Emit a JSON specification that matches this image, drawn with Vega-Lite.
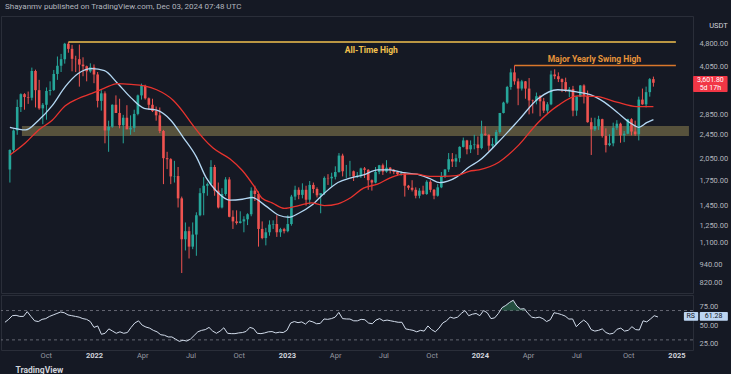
{
  "$schema": "https://vega.github.io/schema/vega-lite/v6.json",
  "background": "#151924",
  "padding": {"left": 0, "top": 2, "right": 2, "bottom": 0},
  "spacing": 0,
  "title": {"text": "Shayanmv published on TradingView.com, Dec 03, 2024 07:48 UTC", "anchor": "start", "dx": 5, "fontSize": 8, "fontWeight": "normal", "font": "Roboto", "color": "#b2b5be", "offset": 5},
  "config": {"view": {"stroke": "#2a2e39", "strokeWidth": 1}, "font": "Roboto"},
  "datasets": {
    "candles": [
      {"d": "2021-07-19", "o": 1895, "h": 2200, "l": 1720, "c": 2190, "r": 54},
      {"d": "2021-07-26", "o": 2190, "h": 2550, "l": 2150, "c": 2530, "r": 58},
      {"d": "2021-08-02", "o": 2530, "h": 3180, "l": 2450, "c": 3010, "r": 63},
      {"d": "2021-08-09", "o": 3010, "h": 3330, "l": 2900, "c": 3310, "r": 63.5},
      {"d": "2021-08-16", "o": 3310, "h": 3335, "l": 2950, "c": 3240, "r": 62},
      {"d": "2021-08-23", "o": 3240, "h": 3375, "l": 3080, "c": 3225, "r": 62},
      {"d": "2021-08-30", "o": 3225, "h": 4030, "l": 3160, "c": 3930, "r": 68.5},
      {"d": "2021-09-06", "o": 3930, "h": 3970, "l": 3000, "c": 3410, "r": 62},
      {"d": "2021-09-13", "o": 3410, "h": 3680, "l": 2950, "c": 2980, "r": 56},
      {"d": "2021-09-20", "o": 2980, "h": 3100, "l": 2650, "c": 3060, "r": 55},
      {"d": "2021-09-27", "o": 3060, "h": 3480, "l": 2740, "c": 3390, "r": 58},
      {"d": "2021-10-04", "o": 3390, "h": 3640, "l": 3280, "c": 3415, "r": 59},
      {"d": "2021-10-11", "o": 3415, "h": 3960, "l": 3390, "c": 3845, "r": 62},
      {"d": "2021-10-18", "o": 3845, "h": 4375, "l": 3680, "c": 4085, "r": 64},
      {"d": "2021-10-25", "o": 4085, "h": 4460, "l": 3900, "c": 4290, "r": 66},
      {"d": "2021-11-01", "o": 4290, "h": 4840, "l": 4150, "c": 4810, "r": 68},
      {"d": "2021-11-08", "o": 4810, "h": 4868, "l": 4500, "c": 4630, "r": 67},
      {"d": "2021-11-15", "o": 4630, "h": 4770, "l": 3920, "c": 4300, "r": 64},
      {"d": "2021-11-22", "o": 4300, "h": 4400, "l": 3900, "c": 4290, "r": 63},
      {"d": "2021-11-29", "o": 4290, "h": 4780, "l": 3500, "c": 4120, "r": 62},
      {"d": "2021-12-06", "o": 4120, "h": 4350, "l": 3780, "c": 4070, "r": 61},
      {"d": "2021-12-13", "o": 4070, "h": 4090, "l": 3640, "c": 3920, "r": 59},
      {"d": "2021-12-20", "o": 3920, "h": 4160, "l": 3880, "c": 4040, "r": 58},
      {"d": "2021-12-27", "o": 4040, "h": 4125, "l": 3590, "c": 3830, "r": 55},
      {"d": "2022-01-03", "o": 3830, "h": 3900, "l": 3000, "c": 3150, "r": 47},
      {"d": "2022-01-10", "o": 3150, "h": 3410, "l": 2930, "c": 3330, "r": 49},
      {"d": "2022-01-17", "o": 3330, "h": 3380, "l": 2300, "c": 2530, "r": 37.6},
      {"d": "2022-01-24", "o": 2530, "h": 2720, "l": 2160, "c": 2600, "r": 39},
      {"d": "2022-01-31", "o": 2600, "h": 3070, "l": 2580, "c": 3060, "r": 45},
      {"d": "2022-02-07", "o": 3060, "h": 3280, "l": 2880, "c": 2880, "r": 42},
      {"d": "2022-02-14", "o": 2880, "h": 3200, "l": 2570, "c": 2630, "r": 39},
      {"d": "2022-02-21", "o": 2630, "h": 2840, "l": 2300, "c": 2780, "r": 41},
      {"d": "2022-02-28", "o": 2780, "h": 3050, "l": 2600, "c": 2550, "r": 39},
      {"d": "2022-03-07", "o": 2550, "h": 2830, "l": 2450, "c": 2580, "r": 40},
      {"d": "2022-03-14", "o": 2580, "h": 2950, "l": 2500, "c": 2860, "r": 47},
      {"d": "2022-03-21", "o": 2860, "h": 3300, "l": 2830, "c": 3280, "r": 53},
      {"d": "2022-03-28", "o": 3280, "h": 3580, "l": 3180, "c": 3520, "r": 56},
      {"d": "2022-04-04", "o": 3520, "h": 3550, "l": 3180, "c": 3210, "r": 50},
      {"d": "2022-04-11", "o": 3210, "h": 3230, "l": 2950, "c": 3060, "r": 47.5},
      {"d": "2022-04-18", "o": 3060, "h": 3200, "l": 2900, "c": 2920, "r": 46},
      {"d": "2022-04-25", "o": 2920, "h": 3020, "l": 2720, "c": 2830, "r": 43},
      {"d": "2022-05-02", "o": 2830, "h": 3000, "l": 2480, "c": 2520, "r": 41},
      {"d": "2022-05-09", "o": 2520, "h": 2540, "l": 1700, "c": 2060, "r": 37},
      {"d": "2022-05-16", "o": 2060, "h": 2160, "l": 1900, "c": 2045, "r": 36.3},
      {"d": "2022-05-23", "o": 2045, "h": 2060, "l": 1700, "c": 1800, "r": 34},
      {"d": "2022-05-30", "o": 1800, "h": 2020, "l": 1720, "c": 1805, "r": 34},
      {"d": "2022-06-06", "o": 1805, "h": 1930, "l": 1430, "c": 1530, "r": 31},
      {"d": "2022-06-13", "o": 1530, "h": 1550, "l": 880, "c": 1130, "r": 28},
      {"d": "2022-06-20", "o": 1130, "h": 1280, "l": 1040, "c": 1200, "r": 29.5},
      {"d": "2022-06-27", "o": 1200, "h": 1240, "l": 980, "c": 1070, "r": 28.4},
      {"d": "2022-07-04", "o": 1070, "h": 1280, "l": 1050, "c": 1170, "r": 31},
      {"d": "2022-07-11", "o": 1170, "h": 1380, "l": 1000, "c": 1350, "r": 36},
      {"d": "2022-07-18", "o": 1350, "h": 1650, "l": 1340, "c": 1590, "r": 41},
      {"d": "2022-07-25", "o": 1590, "h": 1790, "l": 1350, "c": 1680, "r": 43},
      {"d": "2022-08-01", "o": 1680, "h": 1720, "l": 1560, "c": 1700, "r": 44},
      {"d": "2022-08-08", "o": 1700, "h": 2030, "l": 1690, "c": 1930, "r": 47},
      {"d": "2022-08-15", "o": 1930, "h": 1960, "l": 1560, "c": 1620, "r": 42},
      {"d": "2022-08-22", "o": 1620, "h": 1720, "l": 1420, "c": 1430, "r": 39},
      {"d": "2022-08-29", "o": 1430, "h": 1650, "l": 1420, "c": 1580, "r": 42},
      {"d": "2022-09-05", "o": 1580, "h": 1790, "l": 1560, "c": 1760, "r": 46.5},
      {"d": "2022-09-12", "o": 1760, "h": 1790, "l": 1330, "c": 1335, "r": 39},
      {"d": "2022-09-19", "o": 1335, "h": 1400, "l": 1220, "c": 1290, "r": 38.5},
      {"d": "2022-09-26", "o": 1290, "h": 1400, "l": 1260, "c": 1275, "r": 38.5},
      {"d": "2022-10-03", "o": 1275, "h": 1390, "l": 1270, "c": 1290, "r": 39.5},
      {"d": "2022-10-10", "o": 1290, "h": 1340, "l": 1190, "c": 1310, "r": 40},
      {"d": "2022-10-17", "o": 1310, "h": 1370, "l": 1255, "c": 1360, "r": 41.5},
      {"d": "2022-10-24", "o": 1360, "h": 1660, "l": 1340, "c": 1620, "r": 47},
      {"d": "2022-10-31", "o": 1620, "h": 1680, "l": 1500, "c": 1580, "r": 45.5},
      {"d": "2022-11-07", "o": 1580, "h": 1610, "l": 1070, "c": 1220, "r": 39},
      {"d": "2022-11-14", "o": 1220, "h": 1290, "l": 1130, "c": 1140, "r": 38.5},
      {"d": "2022-11-21", "o": 1140, "h": 1230, "l": 1080, "c": 1190, "r": 39.5},
      {"d": "2022-11-28", "o": 1190, "h": 1300, "l": 1160, "c": 1260, "r": 41},
      {"d": "2022-12-05", "o": 1260, "h": 1300, "l": 1220, "c": 1265, "r": 41.3},
      {"d": "2022-12-12", "o": 1265, "h": 1350, "l": 1150, "c": 1190, "r": 39.5},
      {"d": "2022-12-19", "o": 1190, "h": 1230, "l": 1150, "c": 1218, "r": 40.5},
      {"d": "2022-12-26", "o": 1218, "h": 1230, "l": 1180, "c": 1200, "r": 40},
      {"d": "2023-01-02", "o": 1200, "h": 1350, "l": 1190, "c": 1265, "r": 43},
      {"d": "2023-01-09", "o": 1265, "h": 1570, "l": 1250, "c": 1550, "r": 53},
      {"d": "2023-01-16", "o": 1550, "h": 1680, "l": 1510, "c": 1630, "r": 55},
      {"d": "2023-01-23", "o": 1630, "h": 1660, "l": 1520, "c": 1570, "r": 53.5},
      {"d": "2023-01-30", "o": 1570, "h": 1710, "l": 1530, "c": 1630, "r": 54.5},
      {"d": "2023-02-06", "o": 1630, "h": 1680, "l": 1450, "c": 1515, "r": 51.5},
      {"d": "2023-02-13", "o": 1515, "h": 1740, "l": 1460, "c": 1690, "r": 56},
      {"d": "2023-02-20", "o": 1690, "h": 1720, "l": 1590, "c": 1640, "r": 54.5},
      {"d": "2023-02-27", "o": 1640, "h": 1660, "l": 1540, "c": 1565, "r": 52},
      {"d": "2023-03-06", "o": 1565, "h": 1580, "l": 1370, "c": 1590, "r": 52.5},
      {"d": "2023-03-13", "o": 1590, "h": 1800, "l": 1570, "c": 1780, "r": 58.5},
      {"d": "2023-03-20", "o": 1780, "h": 1830, "l": 1690, "c": 1775, "r": 58},
      {"d": "2023-03-27", "o": 1775, "h": 1850, "l": 1670, "c": 1795, "r": 59},
      {"d": "2023-04-03", "o": 1795, "h": 1940, "l": 1760, "c": 1860, "r": 61},
      {"d": "2023-04-10", "o": 1860, "h": 2140, "l": 1850, "c": 2100, "r": 67.5},
      {"d": "2023-04-17", "o": 2100, "h": 2130, "l": 1800, "c": 1870, "r": 59},
      {"d": "2023-04-24", "o": 1870, "h": 1960, "l": 1780, "c": 1870, "r": 58.5},
      {"d": "2023-05-01", "o": 1870, "h": 2020, "l": 1800, "c": 1870, "r": 58.4},
      {"d": "2023-05-08", "o": 1870, "h": 1880, "l": 1740, "c": 1800, "r": 56},
      {"d": "2023-05-15", "o": 1800, "h": 1860, "l": 1780, "c": 1810, "r": 56},
      {"d": "2023-05-22", "o": 1810, "h": 1920, "l": 1780, "c": 1910, "r": 58},
      {"d": "2023-05-29", "o": 1910, "h": 1930, "l": 1780, "c": 1890, "r": 57.5},
      {"d": "2023-06-05", "o": 1890, "h": 1900, "l": 1630, "c": 1750, "r": 53},
      {"d": "2023-06-12", "o": 1750, "h": 1760, "l": 1620, "c": 1720, "r": 52},
      {"d": "2023-06-19", "o": 1720, "h": 1930, "l": 1710, "c": 1860, "r": 57},
      {"d": "2023-06-26", "o": 1860, "h": 1960, "l": 1830, "c": 1955, "r": 59},
      {"d": "2023-07-03", "o": 1955, "h": 1980, "l": 1820, "c": 1865, "r": 56},
      {"d": "2023-07-10", "o": 1865, "h": 2030, "l": 1850, "c": 1920, "r": 57},
      {"d": "2023-07-17", "o": 1920, "h": 1930, "l": 1840, "c": 1890, "r": 56},
      {"d": "2023-07-24", "o": 1890, "h": 1900, "l": 1830, "c": 1860, "r": 55},
      {"d": "2023-07-31", "o": 1860, "h": 1870, "l": 1810, "c": 1830, "r": 54},
      {"d": "2023-08-07", "o": 1830, "h": 1870, "l": 1810, "c": 1840, "r": 54},
      {"d": "2023-08-14", "o": 1840, "h": 1860, "l": 1550, "c": 1680, "r": 45},
      {"d": "2023-08-21", "o": 1680, "h": 1690, "l": 1630, "c": 1655, "r": 44},
      {"d": "2023-08-28", "o": 1655, "h": 1750, "l": 1610, "c": 1630, "r": 43},
      {"d": "2023-09-04", "o": 1630, "h": 1660, "l": 1530, "c": 1560, "r": 41},
      {"d": "2023-09-11", "o": 1560, "h": 1650, "l": 1530, "c": 1620, "r": 43},
      {"d": "2023-09-18", "o": 1620, "h": 1680, "l": 1570, "c": 1580, "r": 42},
      {"d": "2023-09-25", "o": 1580, "h": 1750, "l": 1570, "c": 1730, "r": 49},
      {"d": "2023-10-02", "o": 1730, "h": 1750, "l": 1600, "c": 1630, "r": 44},
      {"d": "2023-10-09", "o": 1630, "h": 1640, "l": 1520, "c": 1560, "r": 41},
      {"d": "2023-10-16", "o": 1560, "h": 1700, "l": 1550, "c": 1660, "r": 46},
      {"d": "2023-10-23", "o": 1660, "h": 1860, "l": 1650, "c": 1800, "r": 53},
      {"d": "2023-10-30", "o": 1800, "h": 1900, "l": 1780, "c": 1895, "r": 56},
      {"d": "2023-11-06", "o": 1895, "h": 2140, "l": 1860, "c": 2045, "r": 61},
      {"d": "2023-11-13", "o": 2045, "h": 2140, "l": 1930, "c": 2010, "r": 59.5},
      {"d": "2023-11-20", "o": 2010, "h": 2120, "l": 1930, "c": 2060, "r": 61},
      {"d": "2023-11-27", "o": 2060, "h": 2250, "l": 2000, "c": 2240, "r": 66},
      {"d": "2023-12-04", "o": 2240, "h": 2400, "l": 2230, "c": 2350, "r": 70},
      {"d": "2023-12-11", "o": 2350, "h": 2360, "l": 2120, "c": 2200, "r": 63},
      {"d": "2023-12-18", "o": 2200, "h": 2350, "l": 2140, "c": 2270, "r": 65},
      {"d": "2023-12-25", "o": 2270, "h": 2450, "l": 2200, "c": 2280, "r": 66},
      {"d": "2024-01-01", "o": 2280, "h": 2420, "l": 2110, "c": 2220, "r": 63},
      {"d": "2024-01-08", "o": 2220, "h": 2720, "l": 2200, "c": 2470, "r": 70},
      {"d": "2024-01-15", "o": 2470, "h": 2610, "l": 2430, "c": 2450, "r": 67},
      {"d": "2024-01-22", "o": 2450, "h": 2460, "l": 2170, "c": 2260, "r": 59},
      {"d": "2024-01-29", "o": 2260, "h": 2390, "l": 2220, "c": 2290, "r": 60},
      {"d": "2024-02-05", "o": 2290, "h": 2540, "l": 2270, "c": 2500, "r": 66},
      {"d": "2024-02-12", "o": 2500, "h": 2870, "l": 2470, "c": 2880, "r": 74},
      {"d": "2024-02-19", "o": 2880, "h": 3130, "l": 2870, "c": 3110, "r": 77},
      {"d": "2024-02-26", "o": 3110, "h": 3520, "l": 3080, "c": 3490, "r": 81},
      {"d": "2024-03-04", "o": 3490, "h": 4000, "l": 3420, "c": 3890, "r": 84},
      {"d": "2024-03-11", "o": 3890, "h": 4093, "l": 3550, "c": 3640, "r": 76},
      {"d": "2024-03-18", "o": 3640, "h": 3720, "l": 3050, "c": 3450, "r": 72},
      {"d": "2024-03-25", "o": 3450, "h": 3680, "l": 3400, "c": 3640, "r": 72.5},
      {"d": "2024-04-01", "o": 3640, "h": 3650, "l": 3200, "c": 3450, "r": 66},
      {"d": "2024-04-08", "o": 3450, "h": 3730, "l": 2850, "c": 3160, "r": 61},
      {"d": "2024-04-15", "o": 3160, "h": 3180, "l": 2870, "c": 3150, "r": 60},
      {"d": "2024-04-22", "o": 3150, "h": 3350, "l": 3070, "c": 3260, "r": 61},
      {"d": "2024-04-29", "o": 3260, "h": 3290, "l": 2810, "c": 3140, "r": 59},
      {"d": "2024-05-06", "o": 3140, "h": 3220, "l": 2880, "c": 2930, "r": 55},
      {"d": "2024-05-13", "o": 2930, "h": 3120, "l": 2860, "c": 3070, "r": 57.5},
      {"d": "2024-05-20", "o": 3070, "h": 3940, "l": 3050, "c": 3830, "r": 67},
      {"d": "2024-05-27", "o": 3830, "h": 3980, "l": 3700, "c": 3780, "r": 66},
      {"d": "2024-06-03", "o": 3780, "h": 3890, "l": 3620, "c": 3700, "r": 64.5},
      {"d": "2024-06-10", "o": 3700, "h": 3720, "l": 3360, "c": 3620, "r": 62.5},
      {"d": "2024-06-17", "o": 3620, "h": 3740, "l": 3360, "c": 3420, "r": 58.4},
      {"d": "2024-06-24", "o": 3420, "h": 3490, "l": 3240, "c": 3440, "r": 58.5},
      {"d": "2024-07-01", "o": 3440, "h": 3520, "l": 2810, "c": 2930, "r": 48},
      {"d": "2024-07-08", "o": 2930, "h": 3260, "l": 2820, "c": 3250, "r": 53},
      {"d": "2024-07-15", "o": 3250, "h": 3540, "l": 3240, "c": 3530, "r": 57},
      {"d": "2024-07-22", "o": 3530, "h": 3560, "l": 3090, "c": 3270, "r": 53},
      {"d": "2024-07-29", "o": 3270, "h": 3400, "l": 2680, "c": 2690, "r": 44},
      {"d": "2024-08-05", "o": 2690, "h": 2780, "l": 2110, "c": 2550, "r": 42},
      {"d": "2024-08-12", "o": 2550, "h": 2780, "l": 2520, "c": 2610, "r": 43},
      {"d": "2024-08-19", "o": 2610, "h": 2820, "l": 2540, "c": 2750, "r": 45},
      {"d": "2024-08-26", "o": 2750, "h": 2760, "l": 2400, "c": 2430, "r": 40},
      {"d": "2024-09-02", "o": 2430, "h": 2570, "l": 2150, "c": 2270, "r": 38},
      {"d": "2024-09-09", "o": 2270, "h": 2460, "l": 2250, "c": 2300, "r": 39},
      {"d": "2024-09-16", "o": 2300, "h": 2680, "l": 2250, "c": 2580, "r": 44.5},
      {"d": "2024-09-23", "o": 2580, "h": 2730, "l": 2540, "c": 2660, "r": 46},
      {"d": "2024-09-30", "o": 2660, "h": 2680, "l": 2310, "c": 2440, "r": 42},
      {"d": "2024-10-07", "o": 2440, "h": 2520, "l": 2320, "c": 2470, "r": 43},
      {"d": "2024-10-14", "o": 2470, "h": 2760, "l": 2460, "c": 2750, "r": 48},
      {"d": "2024-10-21", "o": 2750, "h": 2770, "l": 2440, "c": 2510, "r": 44},
      {"d": "2024-10-28", "o": 2510, "h": 2720, "l": 2430, "c": 2460, "r": 43.5},
      {"d": "2024-11-04", "o": 2460, "h": 3250, "l": 2350, "c": 3180, "r": 56},
      {"d": "2024-11-11", "o": 3180, "h": 3450, "l": 3060, "c": 3070, "r": 54.5},
      {"d": "2024-11-18", "o": 3070, "h": 3500, "l": 3000, "c": 3360, "r": 58.5},
      {"d": "2024-11-25", "o": 3360, "h": 3730, "l": 3250, "c": 3700, "r": 63},
      {"d": "2024-12-02", "o": 3700, "h": 3770, "l": 3500, "c": 3602, "r": 61.28}
    ],
    "ma": [
      {"d": "2021-07-19", "s": "fast", "v": 2590},
      {"d": "2021-08-02", "s": "fast", "v": 2560},
      {"d": "2021-08-18", "s": "fast", "v": 2540},
      {"d": "2021-09-12", "s": "fast", "v": 2730},
      {"d": "2021-10-08", "s": "fast", "v": 3040},
      {"d": "2021-11-02", "s": "fast", "v": 3500},
      {"d": "2021-11-26", "s": "fast", "v": 3850},
      {"d": "2021-12-23", "s": "fast", "v": 4000},
      {"d": "2022-01-16", "s": "fast", "v": 3940},
      {"d": "2022-02-10", "s": "fast", "v": 3590},
      {"d": "2022-03-08", "s": "fast", "v": 3220},
      {"d": "2022-04-02", "s": "fast", "v": 2980},
      {"d": "2022-04-26", "s": "fast", "v": 2940},
      {"d": "2022-05-23", "s": "fast", "v": 2730},
      {"d": "2022-06-16", "s": "fast", "v": 2400},
      {"d": "2022-07-11", "s": "fast", "v": 2080},
      {"d": "2022-07-30", "s": "fast", "v": 1780},
      {"d": "2022-08-19", "s": "fast", "v": 1610},
      {"d": "2022-09-13", "s": "fast", "v": 1510},
      {"d": "2022-10-07", "s": "fast", "v": 1520},
      {"d": "2022-10-26", "s": "fast", "v": 1540},
      {"d": "2022-11-20", "s": "fast", "v": 1450},
      {"d": "2022-12-16", "s": "fast", "v": 1350},
      {"d": "2023-01-04", "s": "fast", "v": 1330},
      {"d": "2023-01-23", "s": "fast", "v": 1370},
      {"d": "2023-02-16", "s": "fast", "v": 1450},
      {"d": "2023-03-13", "s": "fast", "v": 1590},
      {"d": "2023-04-08", "s": "fast", "v": 1720},
      {"d": "2023-05-03", "s": "fast", "v": 1780},
      {"d": "2023-05-27", "s": "fast", "v": 1820},
      {"d": "2023-06-23", "s": "fast", "v": 1890},
      {"d": "2023-07-17", "s": "fast", "v": 1890},
      {"d": "2023-08-11", "s": "fast", "v": 1850},
      {"d": "2023-09-06", "s": "fast", "v": 1830},
      {"d": "2023-10-01", "s": "fast", "v": 1770},
      {"d": "2023-10-20", "s": "fast", "v": 1720},
      {"d": "2023-11-21", "s": "fast", "v": 1790},
      {"d": "2023-12-15", "s": "fast", "v": 1930},
      {"d": "2024-01-03", "s": "fast", "v": 2020},
      {"d": "2024-02-10", "s": "fast", "v": 2330},
      {"d": "2024-03-19", "s": "fast", "v": 2730},
      {"d": "2024-04-25", "s": "fast", "v": 3200},
      {"d": "2024-06-02", "s": "fast", "v": 3420},
      {"d": "2024-07-10", "s": "fast", "v": 3360},
      {"d": "2024-08-03", "s": "fast", "v": 3300},
      {"d": "2024-08-30", "s": "fast", "v": 3120},
      {"d": "2024-09-23", "s": "fast", "v": 2900},
      {"d": "2024-10-18", "s": "fast", "v": 2680},
      {"d": "2024-11-04", "s": "fast", "v": 2590},
      {"d": "2024-11-19", "s": "fast", "v": 2680},
      {"d": "2024-12-02", "s": "fast", "v": 2740},
      {"d": "2021-07-19", "s": "slow", "v": 2110},
      {"d": "2021-08-18", "s": "slow", "v": 2310},
      {"d": "2021-09-12", "s": "slow", "v": 2540},
      {"d": "2021-10-08", "s": "slow", "v": 2730},
      {"d": "2021-11-02", "s": "slow", "v": 3040},
      {"d": "2021-11-26", "s": "slow", "v": 3200},
      {"d": "2021-12-23", "s": "slow", "v": 3330},
      {"d": "2022-01-16", "s": "slow", "v": 3460},
      {"d": "2022-02-10", "s": "slow", "v": 3580},
      {"d": "2022-03-08", "s": "slow", "v": 3560},
      {"d": "2022-04-02", "s": "slow", "v": 3520},
      {"d": "2022-04-26", "s": "slow", "v": 3420},
      {"d": "2022-05-28", "s": "slow", "v": 3160},
      {"d": "2022-06-16", "s": "slow", "v": 2900},
      {"d": "2022-07-02", "s": "slow", "v": 2660},
      {"d": "2022-07-24", "s": "slow", "v": 2390},
      {"d": "2022-08-12", "s": "slow", "v": 2220},
      {"d": "2022-09-13", "s": "slow", "v": 2050},
      {"d": "2022-10-07", "s": "slow", "v": 1880},
      {"d": "2022-11-01", "s": "slow", "v": 1650},
      {"d": "2022-11-14", "s": "slow", "v": 1530},
      {"d": "2022-12-03", "s": "slow", "v": 1480},
      {"d": "2022-12-27", "s": "slow", "v": 1420},
      {"d": "2023-01-23", "s": "slow", "v": 1450},
      {"d": "2023-02-16", "s": "slow", "v": 1480},
      {"d": "2023-03-13", "s": "slow", "v": 1450},
      {"d": "2023-04-08", "s": "slow", "v": 1470},
      {"d": "2023-05-03", "s": "slow", "v": 1540},
      {"d": "2023-05-27", "s": "slow", "v": 1650},
      {"d": "2023-06-23", "s": "slow", "v": 1700},
      {"d": "2023-07-17", "s": "slow", "v": 1780},
      {"d": "2023-08-11", "s": "slow", "v": 1830},
      {"d": "2023-09-06", "s": "slow", "v": 1830},
      {"d": "2023-10-01", "s": "slow", "v": 1800},
      {"d": "2023-10-25", "s": "slow", "v": 1800},
      {"d": "2023-11-21", "s": "slow", "v": 1810},
      {"d": "2023-12-15", "s": "slow", "v": 1870},
      {"d": "2024-01-03", "s": "slow", "v": 1890},
      {"d": "2024-02-10", "s": "slow", "v": 2000},
      {"d": "2024-03-19", "s": "slow", "v": 2270},
      {"d": "2024-04-25", "s": "slow", "v": 2680},
      {"d": "2024-06-02", "s": "slow", "v": 3040},
      {"d": "2024-07-10", "s": "slow", "v": 3270},
      {"d": "2024-08-17", "s": "slow", "v": 3250},
      {"d": "2024-09-23", "s": "slow", "v": 3120},
      {"d": "2024-10-31", "s": "slow", "v": 3020},
      {"d": "2024-12-02", "s": "slow", "v": 3020}
    ]
  },
  "vconcat": [
    {
      "width": 692,
      "height": 277,
      "layer": [
        {
          "data": {"values": [{"d": "2021-08-11", "d2": "2025-02-08", "lo": 2430, "hi": 2615}]},
          "mark": {"type": "rect", "color": "#a89a5a", "opacity": 0.45},
          "encoding": {
            "x": {"field": "d", "type": "temporal", "axis": null, "scale": {"type": "utc", "domain": [{"year": 2021, "month": 7, "date": 11, "hours": 13, "utc": true}, {"year": 2025, "month": 2, "date": 6, "hours": 5, "utc": true}]}},
            "x2": {"field": "d2"},
            "y": {"field": "lo", "type": "quantitative", "scale": {"type": "log", "domain": [759, 5906], "nice": false, "zero": false}, "axis": {"orient": "right", "values": [820, 940, 1100, 1250, 1450, 1750, 2050, 2450, 2850, 4050, 4800], "format": ",.2f", "labelFontSize": 7.5, "labelColor": "#b2b5be", "labelPadding": 6, "ticks": false, "domain": false, "grid": false, "title": "USDT", "titleAngle": 0, "titleX": 25, "titleY": 9, "titleAlign": "center", "titleBaseline": "middle", "titleFontSize": 7.5, "titleFontWeight": "normal", "titleColor": "#d1d4dc"}},
            "y2": {"field": "hi"}
          }
        },
        {
          "data": {"name": "candles"},
          "mark": {"type": "rule", "strokeWidth": 1},
          "encoding": {
            "x": {"field": "d", "type": "temporal", "axis": null, "scale": {"type": "utc", "domain": [{"year": 2021, "month": 7, "date": 11, "hours": 13, "utc": true}, {"year": 2025, "month": 2, "date": 6, "hours": 5, "utc": true}]}},
            "y": {"field": "l", "type": "quantitative", "scale": {"type": "log", "domain": [759, 5906], "nice": false, "zero": false}, "axis": {"orient": "right", "values": [820, 940, 1100, 1250, 1450, 1750, 2050, 2450, 2850, 4050, 4800], "format": ",.2f", "labelFontSize": 7.5, "labelColor": "#b2b5be", "labelPadding": 6, "ticks": false, "domain": false, "grid": false, "title": "USDT", "titleAngle": 0, "titleX": 25, "titleY": 9, "titleAlign": "center", "titleBaseline": "middle", "titleFontSize": 7.5, "titleFontWeight": "normal", "titleColor": "#d1d4dc"}},
            "y2": {"field": "h"},
            "color": {"condition": {"test": "datum.c >= datum.o", "value": "#26a69a"}, "value": "#ef5350"}
          }
        },
        {
          "data": {"name": "candles"},
          "mark": {"type": "bar", "size": 2.6},
          "encoding": {
            "x": {"field": "d", "type": "temporal", "axis": null, "scale": {"type": "utc", "domain": [{"year": 2021, "month": 7, "date": 11, "hours": 13, "utc": true}, {"year": 2025, "month": 2, "date": 6, "hours": 5, "utc": true}]}},
            "y": {"field": "o", "type": "quantitative", "scale": {"type": "log", "domain": [759, 5906], "nice": false, "zero": false}, "axis": {"orient": "right", "values": [820, 940, 1100, 1250, 1450, 1750, 2050, 2450, 2850, 4050, 4800], "format": ",.2f", "labelFontSize": 7.5, "labelColor": "#b2b5be", "labelPadding": 6, "ticks": false, "domain": false, "grid": false, "title": "USDT", "titleAngle": 0, "titleX": 25, "titleY": 9, "titleAlign": "center", "titleBaseline": "middle", "titleFontSize": 7.5, "titleFontWeight": "normal", "titleColor": "#d1d4dc"}},
            "y2": {"field": "c"},
            "color": {"condition": {"test": "datum.c >= datum.o", "value": "#26a69a"}, "value": "#ef5350"}
          }
        },
        {
          "data": {"name": "ma"},
          "mark": {"type": "line", "strokeWidth": 1.3, "interpolate": "monotone"},
          "encoding": {
            "x": {"field": "d", "type": "temporal", "axis": null, "scale": {"type": "utc", "domain": [{"year": 2021, "month": 7, "date": 11, "hours": 13, "utc": true}, {"year": 2025, "month": 2, "date": 6, "hours": 5, "utc": true}]}},
            "y": {"field": "v", "type": "quantitative", "scale": {"type": "log", "domain": [759, 5906], "nice": false, "zero": false}, "axis": {"orient": "right", "values": [820, 940, 1100, 1250, 1450, 1750, 2050, 2450, 2850, 4050, 4800], "format": ",.2f", "labelFontSize": 7.5, "labelColor": "#b2b5be", "labelPadding": 6, "ticks": false, "domain": false, "grid": false, "title": "USDT", "titleAngle": 0, "titleX": 25, "titleY": 9, "titleAlign": "center", "titleBaseline": "middle", "titleFontSize": 7.5, "titleFontWeight": "normal", "titleColor": "#d1d4dc"}},
            "color": {"field": "s", "type": "nominal", "scale": {"domain": ["fast", "slow"], "range": ["#b4d8f4", "#e8332e"]}, "legend": null}
          }
        },
        {
          "data": {"values": [{"d": "2021-11-08", "d2": "2025-01-14", "p": 4868}]},
          "mark": {"type": "rule", "color": "#f2c14e", "strokeWidth": 1.5},
          "encoding": {
            "x": {"field": "d", "type": "temporal", "axis": null, "scale": {"type": "utc", "domain": [{"year": 2021, "month": 7, "date": 11, "hours": 13, "utc": true}, {"year": 2025, "month": 2, "date": 6, "hours": 5, "utc": true}]}},
            "x2": {"field": "d2"},
            "y": {"field": "p", "type": "quantitative", "scale": {"type": "log", "domain": [759, 5906], "nice": false, "zero": false}, "axis": {"orient": "right", "values": [820, 940, 1100, 1250, 1450, 1750, 2050, 2450, 2850, 4050, 4800], "format": ",.2f", "labelFontSize": 7.5, "labelColor": "#b2b5be", "labelPadding": 6, "ticks": false, "domain": false, "grid": false, "title": "USDT", "titleAngle": 0, "titleX": 25, "titleY": 9, "titleAlign": "center", "titleBaseline": "middle", "titleFontSize": 7.5, "titleFontWeight": "normal", "titleColor": "#d1d4dc"}}
          }
        },
        {
          "data": {"values": [{"d": "2024-03-11", "d2": "2025-01-14", "p": 4093}]},
          "mark": {"type": "rule", "color": "#d9772b", "strokeWidth": 1.3},
          "encoding": {
            "x": {"field": "d", "type": "temporal", "axis": null, "scale": {"type": "utc", "domain": [{"year": 2021, "month": 7, "date": 11, "hours": 13, "utc": true}, {"year": 2025, "month": 2, "date": 6, "hours": 5, "utc": true}]}},
            "x2": {"field": "d2"},
            "y": {"field": "p", "type": "quantitative", "scale": {"type": "log", "domain": [759, 5906], "nice": false, "zero": false}, "axis": {"orient": "right", "values": [820, 940, 1100, 1250, 1450, 1750, 2050, 2450, 2850, 4050, 4800], "format": ",.2f", "labelFontSize": 7.5, "labelColor": "#b2b5be", "labelPadding": 6, "ticks": false, "domain": false, "grid": false, "title": "USDT", "titleAngle": 0, "titleX": 25, "titleY": 9, "titleAlign": "center", "titleBaseline": "middle", "titleFontSize": 7.5, "titleFontWeight": "normal", "titleColor": "#d1d4dc"}}
          }
        },
        {
          "data": {"values": [{"d": "2023-06-11", "p": 4591, "t": "All-Time High"}]},
          "mark": {"type": "text", "color": "#f2c14e", "fontSize": 8.5, "fontWeight": "bold", "font": "Roboto"},
          "encoding": {
            "x": {"field": "d", "type": "temporal", "axis": null, "scale": {"type": "utc", "domain": [{"year": 2021, "month": 7, "date": 11, "hours": 13, "utc": true}, {"year": 2025, "month": 2, "date": 6, "hours": 5, "utc": true}]}},
            "y": {"field": "p", "type": "quantitative", "scale": {"type": "log", "domain": [759, 5906], "nice": false, "zero": false}, "axis": {"orient": "right", "values": [820, 940, 1100, 1250, 1450, 1750, 2050, 2450, 2850, 4050, 4800], "format": ",.2f", "labelFontSize": 7.5, "labelColor": "#b2b5be", "labelPadding": 6, "ticks": false, "domain": false, "grid": false, "title": "USDT", "titleAngle": 0, "titleX": 25, "titleY": 9, "titleAlign": "center", "titleBaseline": "middle", "titleFontSize": 7.5, "titleFontWeight": "normal", "titleColor": "#d1d4dc"}},
            "text": {"field": "t"}
          }
        },
        {
          "data": {"values": [{"d": "2024-08-11", "p": 4295, "t": "Major Yearly Swing High"}]},
          "mark": {"type": "text", "color": "#e8943a", "fontSize": 8.5, "fontWeight": "bold", "font": "Roboto"},
          "encoding": {
            "x": {"field": "d", "type": "temporal", "axis": null, "scale": {"type": "utc", "domain": [{"year": 2021, "month": 7, "date": 11, "hours": 13, "utc": true}, {"year": 2025, "month": 2, "date": 6, "hours": 5, "utc": true}]}},
            "y": {"field": "p", "type": "quantitative", "scale": {"type": "log", "domain": [759, 5906], "nice": false, "zero": false}, "axis": {"orient": "right", "values": [820, 940, 1100, 1250, 1450, 1750, 2050, 2450, 2850, 4050, 4800], "format": ",.2f", "labelFontSize": 7.5, "labelColor": "#b2b5be", "labelPadding": 6, "ticks": false, "domain": false, "grid": false, "title": "USDT", "titleAngle": 0, "titleX": 25, "titleY": 9, "titleAlign": "center", "titleBaseline": "middle", "titleFontSize": 7.5, "titleFontWeight": "normal", "titleColor": "#d1d4dc"}},
            "text": {"field": "t"}
          }
        },
        {
          "data": {"values": [{"d": "2025-02-16", "d2": "2025-04-23", "lo": 3363, "hi": 3790}]},
          "mark": {"type": "rect", "color": "#f23645", "cornerRadius": 1},
          "encoding": {
            "x": {"field": "d", "type": "temporal", "axis": null, "scale": {"type": "utc", "domain": [{"year": 2021, "month": 7, "date": 11, "hours": 13, "utc": true}, {"year": 2025, "month": 2, "date": 6, "hours": 5, "utc": true}]}},
            "x2": {"field": "d2"},
            "y": {"field": "lo", "type": "quantitative", "scale": {"type": "log", "domain": [759, 5906], "nice": false, "zero": false}, "axis": {"orient": "right", "values": [820, 940, 1100, 1250, 1450, 1750, 2050, 2450, 2850, 4050, 4800], "format": ",.2f", "labelFontSize": 7.5, "labelColor": "#b2b5be", "labelPadding": 6, "ticks": false, "domain": false, "grid": false, "title": "USDT", "titleAngle": 0, "titleX": 25, "titleY": 9, "titleAlign": "center", "titleBaseline": "middle", "titleFontSize": 7.5, "titleFontWeight": "normal", "titleColor": "#d1d4dc"}},
            "y2": {"field": "hi"}
          }
        },
        {
          "data": {"values": [{"d": "2025-03-21", "p": 3690, "t": "3,601.80"}, {"d": "2025-03-21", "p": 3455, "t": "5d 17h"}]},
          "mark": {"type": "text", "color": "#ffffff", "fontSize": 7, "font": "Roboto"},
          "encoding": {
            "x": {"field": "d", "type": "temporal", "axis": null, "scale": {"type": "utc", "domain": [{"year": 2021, "month": 7, "date": 11, "hours": 13, "utc": true}, {"year": 2025, "month": 2, "date": 6, "hours": 5, "utc": true}]}},
            "y": {"field": "p", "type": "quantitative", "scale": {"type": "log", "domain": [759, 5906], "nice": false, "zero": false}, "axis": {"orient": "right", "values": [820, 940, 1100, 1250, 1450, 1750, 2050, 2450, 2850, 4050, 4800], "format": ",.2f", "labelFontSize": 7.5, "labelColor": "#b2b5be", "labelPadding": 6, "ticks": false, "domain": false, "grid": false, "title": "USDT", "titleAngle": 0, "titleX": 25, "titleY": 9, "titleAlign": "center", "titleBaseline": "middle", "titleFontSize": 7.5, "titleFontWeight": "normal", "titleColor": "#d1d4dc"}},
            "text": {"field": "t"}
          }
        }
      ]
    },
    {
      "width": 692,
      "height": 55,
      "layer": [
        {
          "data": {"values": [{"v": 70}, {"v": 30}]},
          "mark": {"type": "rule", "color": "#787b86", "strokeWidth": 0.8, "strokeDash": [3, 3]},
          "encoding": {
            "y": {"field": "v", "type": "quantitative", "scale": {"domain": [16.2, 91.2], "nice": false, "zero": false}, "axis": {"orient": "right", "values": [25, 50, 75], "format": ".2f", "labelFontSize": 7.5, "labelColor": "#b2b5be", "labelPadding": 6, "ticks": false, "domain": false, "grid": false, "title": null}}
          }
        },
        {
          "data": {"name": "candles"},
          "transform": [{"filter": "datum.r > 70 && datum.c > 2400"}],
          "mark": {"type": "area", "color": "#2f7a55", "opacity": 0.55},
          "encoding": {
            "x": {"field": "d", "type": "temporal", "scale": {"type": "utc", "domain": [{"year": 2021, "month": 7, "date": 11, "hours": 13, "utc": true}, {"year": 2025, "month": 2, "date": 6, "hours": 5, "utc": true}]}, "axis": {"values": [{"year": 2021, "month": 10, "date": 4, "utc": true}, {"year": 2022, "month": 1, "date": 3, "utc": true}, {"year": 2022, "month": 4, "date": 4, "utc": true}, {"year": 2022, "month": 7, "date": 4, "utc": true}, {"year": 2022, "month": 10, "date": 3, "utc": true}, {"year": 2023, "month": 1, "date": 2, "utc": true}, {"year": 2023, "month": 4, "date": 3, "utc": true}, {"year": 2023, "month": 7, "date": 3, "utc": true}, {"year": 2023, "month": 10, "date": 2, "utc": true}, {"year": 2024, "month": 1, "date": 1, "utc": true}, {"year": 2024, "month": 4, "date": 1, "utc": true}, {"year": 2024, "month": 7, "date": 1, "utc": true}, {"year": 2024, "month": 10, "date": 7, "utc": true}, {"year": 2025, "month": 1, "date": 6, "utc": true}], "labelExpr": "utcmonth(datum.value) == 0 ? utcFormat(datum.value, '%Y') : utcFormat(datum.value, '%b')", "labelFontSize": 7.5, "labelColor": {"condition": {"test": "utcmonth(datum.value) == 0", "value": "#d1d4dc"}, "value": "#9598a1"}, "labelFontWeight": {"condition": {"test": "utcmonth(datum.value) == 0", "value": "bold"}, "value": "normal"}, "labelPadding": 1, "labelFlush": false, "labelOverlap": false, "ticks": false, "domain": false, "grid": false, "title": "TradingView", "titleAnchor": "start", "titleAlign": "left", "titleBaseline": "middle", "titleX": 14, "titleY": 19, "titleFontSize": 8.5, "titleFontWeight": "bold", "titleColor": "#d1d4dc"}},
            "y": {"field": "r", "type": "quantitative", "scale": {"domain": [16.2, 91.2], "nice": false, "zero": false}, "axis": {"orient": "right", "values": [25, 50, 75], "format": ".2f", "labelFontSize": 7.5, "labelColor": "#b2b5be", "labelPadding": 6, "ticks": false, "domain": false, "grid": false, "title": null}},
            "y2": {"datum": 70}
          }
        },
        {
          "data": {"name": "candles"},
          "mark": {"type": "line", "color": "#d3ddec", "strokeWidth": 1},
          "encoding": {
            "x": {"field": "d", "type": "temporal", "scale": {"type": "utc", "domain": [{"year": 2021, "month": 7, "date": 11, "hours": 13, "utc": true}, {"year": 2025, "month": 2, "date": 6, "hours": 5, "utc": true}]}, "axis": {"values": [{"year": 2021, "month": 10, "date": 4, "utc": true}, {"year": 2022, "month": 1, "date": 3, "utc": true}, {"year": 2022, "month": 4, "date": 4, "utc": true}, {"year": 2022, "month": 7, "date": 4, "utc": true}, {"year": 2022, "month": 10, "date": 3, "utc": true}, {"year": 2023, "month": 1, "date": 2, "utc": true}, {"year": 2023, "month": 4, "date": 3, "utc": true}, {"year": 2023, "month": 7, "date": 3, "utc": true}, {"year": 2023, "month": 10, "date": 2, "utc": true}, {"year": 2024, "month": 1, "date": 1, "utc": true}, {"year": 2024, "month": 4, "date": 1, "utc": true}, {"year": 2024, "month": 7, "date": 1, "utc": true}, {"year": 2024, "month": 10, "date": 7, "utc": true}, {"year": 2025, "month": 1, "date": 6, "utc": true}], "labelExpr": "utcmonth(datum.value) == 0 ? utcFormat(datum.value, '%Y') : utcFormat(datum.value, '%b')", "labelFontSize": 7.5, "labelColor": {"condition": {"test": "utcmonth(datum.value) == 0", "value": "#d1d4dc"}, "value": "#9598a1"}, "labelFontWeight": {"condition": {"test": "utcmonth(datum.value) == 0", "value": "bold"}, "value": "normal"}, "labelPadding": 1, "labelFlush": false, "labelOverlap": false, "ticks": false, "domain": false, "grid": false, "title": "TradingView", "titleAnchor": "start", "titleAlign": "left", "titleBaseline": "middle", "titleX": 14, "titleY": 19, "titleFontSize": 8.5, "titleFontWeight": "bold", "titleColor": "#d1d4dc"}},
            "y": {"field": "r", "type": "quantitative", "scale": {"domain": [16.2, 91.2], "nice": false, "zero": false}, "axis": {"orient": "right", "values": [25, 50, 75], "format": ".2f", "labelFontSize": 7.5, "labelColor": "#b2b5be", "labelPadding": 6, "ticks": false, "domain": false, "grid": false, "title": null}}
          }
        },
        {
          "data": {"values": [{"d": "2025-01-20", "d2": "2025-02-16", "lo": 56, "hi": 68}, {"d": "2025-02-19", "d2": "2025-04-13", "lo": 56, "hi": 68}]},
          "mark": {"type": "rect", "color": "#bcd5f2", "cornerRadius": 1},
          "encoding": {
            "x": {"field": "d", "type": "temporal", "scale": {"type": "utc", "domain": [{"year": 2021, "month": 7, "date": 11, "hours": 13, "utc": true}, {"year": 2025, "month": 2, "date": 6, "hours": 5, "utc": true}]}, "axis": {"values": [{"year": 2021, "month": 10, "date": 4, "utc": true}, {"year": 2022, "month": 1, "date": 3, "utc": true}, {"year": 2022, "month": 4, "date": 4, "utc": true}, {"year": 2022, "month": 7, "date": 4, "utc": true}, {"year": 2022, "month": 10, "date": 3, "utc": true}, {"year": 2023, "month": 1, "date": 2, "utc": true}, {"year": 2023, "month": 4, "date": 3, "utc": true}, {"year": 2023, "month": 7, "date": 3, "utc": true}, {"year": 2023, "month": 10, "date": 2, "utc": true}, {"year": 2024, "month": 1, "date": 1, "utc": true}, {"year": 2024, "month": 4, "date": 1, "utc": true}, {"year": 2024, "month": 7, "date": 1, "utc": true}, {"year": 2024, "month": 10, "date": 7, "utc": true}, {"year": 2025, "month": 1, "date": 6, "utc": true}], "labelExpr": "utcmonth(datum.value) == 0 ? utcFormat(datum.value, '%Y') : utcFormat(datum.value, '%b')", "labelFontSize": 7.5, "labelColor": {"condition": {"test": "utcmonth(datum.value) == 0", "value": "#d1d4dc"}, "value": "#9598a1"}, "labelFontWeight": {"condition": {"test": "utcmonth(datum.value) == 0", "value": "bold"}, "value": "normal"}, "labelPadding": 1, "labelFlush": false, "labelOverlap": false, "ticks": false, "domain": false, "grid": false, "title": "TradingView", "titleAnchor": "start", "titleAlign": "left", "titleBaseline": "middle", "titleX": 14, "titleY": 19, "titleFontSize": 8.5, "titleFontWeight": "bold", "titleColor": "#d1d4dc"}},
            "x2": {"field": "d2"},
            "y": {"field": "lo", "type": "quantitative", "scale": {"domain": [16.2, 91.2], "nice": false, "zero": false}, "axis": {"orient": "right", "values": [25, 50, 75], "format": ".2f", "labelFontSize": 7.5, "labelColor": "#b2b5be", "labelPadding": 6, "ticks": false, "domain": false, "grid": false, "title": null}},
            "y2": {"field": "hi"}
          }
        },
        {
          "data": {"values": [{"d": "2025-02-02", "v": 62, "t": "RS"}, {"d": "2025-03-17", "v": 62, "t": "61.28"}]},
          "mark": {"type": "text", "color": "#131722", "fontSize": 7, "font": "Roboto"},
          "encoding": {
            "x": {"field": "d", "type": "temporal", "scale": {"type": "utc", "domain": [{"year": 2021, "month": 7, "date": 11, "hours": 13, "utc": true}, {"year": 2025, "month": 2, "date": 6, "hours": 5, "utc": true}]}, "axis": {"values": [{"year": 2021, "month": 10, "date": 4, "utc": true}, {"year": 2022, "month": 1, "date": 3, "utc": true}, {"year": 2022, "month": 4, "date": 4, "utc": true}, {"year": 2022, "month": 7, "date": 4, "utc": true}, {"year": 2022, "month": 10, "date": 3, "utc": true}, {"year": 2023, "month": 1, "date": 2, "utc": true}, {"year": 2023, "month": 4, "date": 3, "utc": true}, {"year": 2023, "month": 7, "date": 3, "utc": true}, {"year": 2023, "month": 10, "date": 2, "utc": true}, {"year": 2024, "month": 1, "date": 1, "utc": true}, {"year": 2024, "month": 4, "date": 1, "utc": true}, {"year": 2024, "month": 7, "date": 1, "utc": true}, {"year": 2024, "month": 10, "date": 7, "utc": true}, {"year": 2025, "month": 1, "date": 6, "utc": true}], "labelExpr": "utcmonth(datum.value) == 0 ? utcFormat(datum.value, '%Y') : utcFormat(datum.value, '%b')", "labelFontSize": 7.5, "labelColor": {"condition": {"test": "utcmonth(datum.value) == 0", "value": "#d1d4dc"}, "value": "#9598a1"}, "labelFontWeight": {"condition": {"test": "utcmonth(datum.value) == 0", "value": "bold"}, "value": "normal"}, "labelPadding": 1, "labelFlush": false, "labelOverlap": false, "ticks": false, "domain": false, "grid": false, "title": "TradingView", "titleAnchor": "start", "titleAlign": "left", "titleBaseline": "middle", "titleX": 14, "titleY": 19, "titleFontSize": 8.5, "titleFontWeight": "bold", "titleColor": "#d1d4dc"}},
            "y": {"field": "v", "type": "quantitative", "scale": {"domain": [16.2, 91.2], "nice": false, "zero": false}, "axis": {"orient": "right", "values": [25, 50, 75], "format": ".2f", "labelFontSize": 7.5, "labelColor": "#b2b5be", "labelPadding": 6, "ticks": false, "domain": false, "grid": false, "title": null}},
            "text": {"field": "t"}
          }
        }
      ]
    }
  ]
}
